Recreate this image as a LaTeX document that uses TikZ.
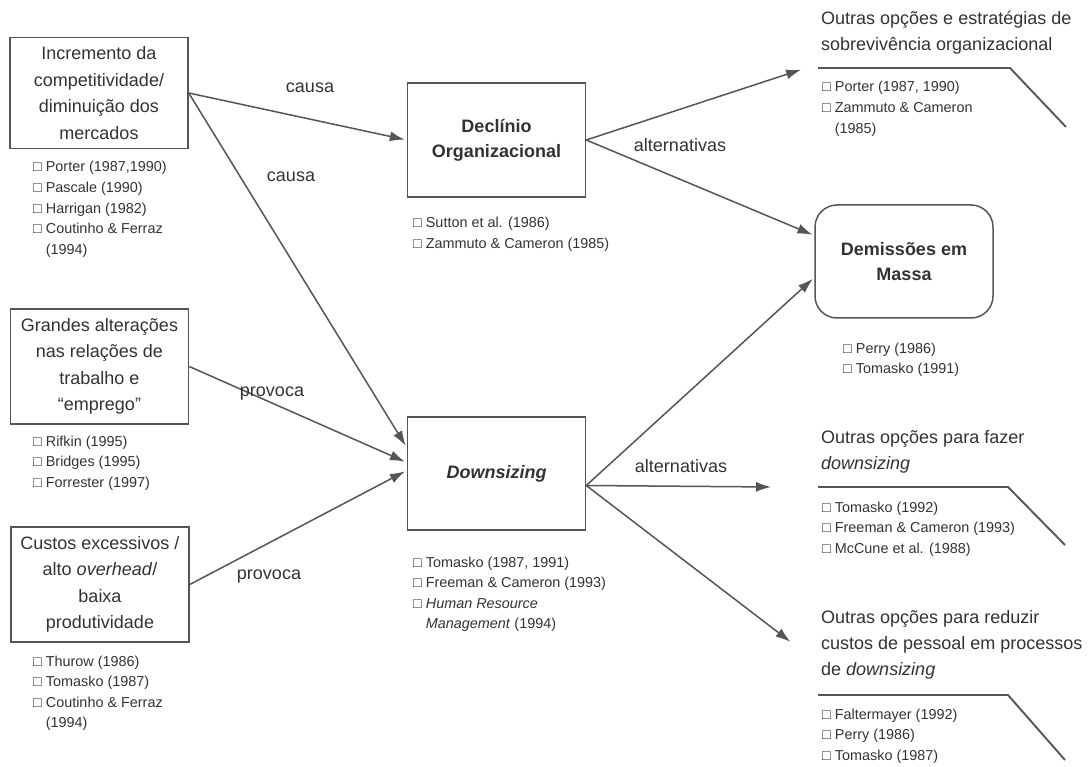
\documentclass[tikz,border=0pt]{standalone}
\usepackage{fontspec}
\setmainfont{Liberation Sans}
\usepackage{tikz}
\usetikzlibrary{arrows.meta,positioning,calc}
\definecolor{ink}{RGB}{50,50,50}
\definecolor{wire}{RGB}{85,85,85}
\newcommand{\itm}{□\ }
\newcommand{\cont}{\phantom{□\ }}

\begin{document}
\begin{tikzpicture}[x=1pt,y=-1pt,
    every node/.style={text=ink},
    >={Latex[length=15pt,width=10pt]},
    box/.style={draw=wire,line width=1.5pt,align=center,minimum width=178pt,
        minimum height=112pt,inner sep=0pt,font=\fontsize{18}{26.5}\selectfont},
    refs/.style={anchor=base west,align=left,inner sep=0pt,font=\fontsize{14.4}{20.6}\selectfont},
    head/.style={anchor=base west,align=left,inner sep=0pt,font=\fontsize{18}{26}\selectfont},
    lbl/.style={font=\fontsize{18}{22}\selectfont,inner sep=0pt},
    arr/.style={->,draw=wire,line width=1.5pt,shorten >=2pt},
    rule/.style={draw=wire,line width=1.9pt}]
    \useasboundingbox (0,0) rectangle (1090,767);

    % causas (refs placed at the baseline of their last line)
    \node[box,minimum height=111pt] (inc) at (99,93) {Incremento da\\competitividade/\\diminuição dos\\mercados};
    \node[refs] (incref) at (33,254.4) {\itm Porter (1987,1990)\\\itm Pascale (1990)\\\itm Harrigan (1982)\\\itm Coutinho \& Ferraz\\\cont(1994)};
    \node[box,minimum height=115pt] (gra) at (99.5,366.5) {Grandes alterações\\nas relações de\\trabalho e\\“emprego”};
    \node[refs] (graref) at (33,487.2) {\itm Rifkin (1995)\\\itm Bridges (1995)\\\itm Forrester (1997)};
    \node[box,minimum height=115pt] (cus) at (100,584.5) {Custos excessivos /\\alto \textit{overhead}/\\baixa\\produtividade};
    \node[refs] (cusref) at (33,727.8) {\itm Thurow (1986)\\\itm Tomasko (1987)\\\itm Coutinho \& Ferraz\\\cont(1994)};

    % centro
    \node[box,minimum height=114pt,font=\fontsize{18}{25}\selectfont\bfseries] (dec) at (496.5,140) {Declínio\\Organizacional};
    \node[refs] (decref) at (413,248.6) {\itm Sutton et al. (1986)\\\itm Zammuto \& Cameron (1985)};
    \node[box,minimum height=113pt,font=\fontsize{18}{25}\selectfont\bfseries\itshape] (down) at (496.5,473.5) {Downsizing};
    \node[refs] (downref) at (413,628.8) {\itm Tomasko (1987, 1991)\\\itm Freeman \& Cameron (1993)\\\itm\textit{Human Resource}\\\cont\textit{Management} (1994)};

    % direita
    \node[box,rounded corners=22pt,minimum height=113pt,font=\fontsize{18}{25}\selectfont\bfseries] (dem) at (904,261.5) {Demissões em\\Massa};
    \node[refs] (demref) at (843,373.6) {\itm Perry (1986)\\\itm Tomasko (1991)};

    \node[head] (opt1head) at (821,51) {Outras opções e estratégias de\\sobrevivência organizacional};
    \draw[rule] (818,68) -- (1010,68) -- (1066,127);
    \node[refs] (opt1ref) at (822,133.2) {\itm Porter (1987, 1990)\\\itm Zammuto \& Cameron\\\cont(1985)};
    \node[head] (opt2head) at (821,469) {Outras opções para fazer\\\textit{downsizing}};
    \draw[rule] (818,487) -- (1008,487) -- (1065,545);
    \node[refs] (opt2ref) at (822,553.2) {\itm Tomasko (1992)\\\itm Freeman \& Cameron (1993)\\\itm McCune et al. (1988)};
    \node[head] (opt3head) at (821,675) {Outras opções para reduzir\\custos de pessoal em processos\\de \textit{downsizing}};
    \draw[rule] (818,695) -- (1008,695) -- (1065,760);
    \node[refs] (opt3ref) at (822,760.2) {\itm Faltermayer (1992)\\\itm Perry (1986)\\\itm Tomasko (1987)};

    \coordinate (opt1) at (803,69);
    \coordinate (opt2) at (773,487);
    \coordinate (opt3) at (792,643);
    \coordinate (dx) at ([yshift=-12pt]down.east);

    % ligacoes
    \draw[arr] (inc.east) -- (dec.west);
    \draw[arr] (inc.east) -- ([yshift=26pt]down.west);
    \draw[arr] (gra.east) -- ([yshift=11pt]down.west);
    \draw[arr] (cus.east) -- ([yshift=3pt]down.west);
    \draw[arr] (dec.east) -- (opt1);
    \draw[arr] (dec.east) -- ([yshift=26pt]dem.west);
    \draw[arr] (dx) -- ([yshift=-16pt]dem.west);
    \draw[arr] (dx) -- (opt2);
    \draw[arr] (dx) -- (opt3);

    \node[lbl] (causa1) at (310,88) {causa};
    \node[lbl] (causa2) at (291,177) {causa};
    \node[lbl] (prov1) at (272,394) {provoca};
    \node[lbl] (prov2) at (269,577) {provoca};
    \node[lbl] (alt1) at (680,145) {alternativas};
    \node[lbl] (alt2) at (681,466) {alternativas};
\end{tikzpicture}
\end{document}
